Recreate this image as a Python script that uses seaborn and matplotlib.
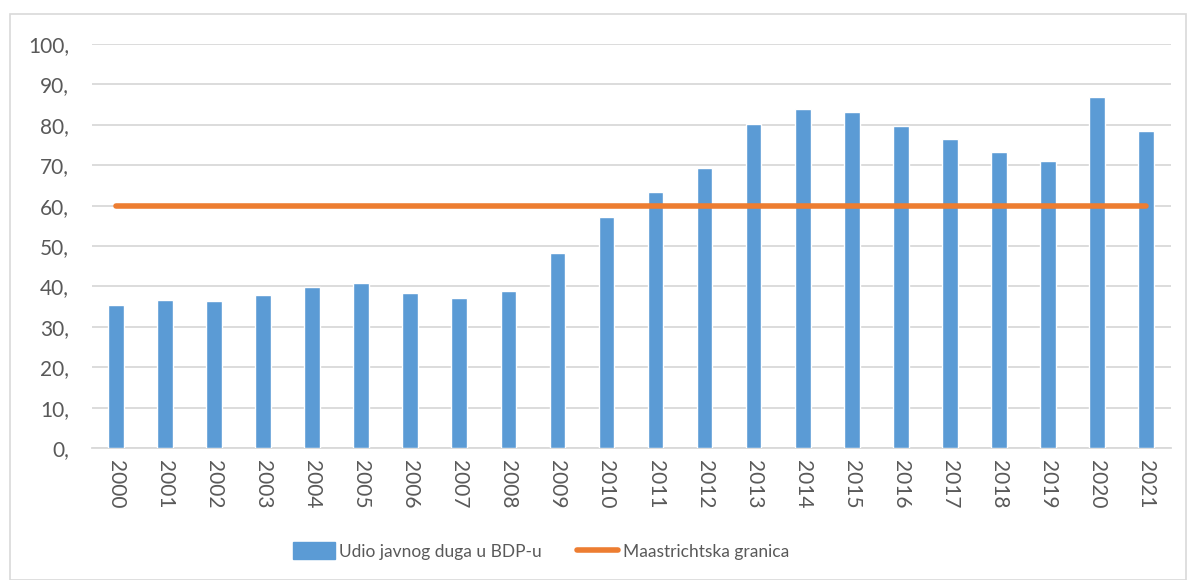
import numpy as np
import pandas as pd
import matplotlib
matplotlib.use("Agg")
import matplotlib.pyplot as plt
import matplotlib.patches as mpatches
from matplotlib.lines import Line2D
import seaborn as sns

years = [str(y) for y in range(2000, 2022)]
debt_ratio = [35.4, 36.6, 36.5, 37.8, 39.9, 40.8, 38.4, 37.2, 38.9, 48.2, 57.1,
              63.4, 69.2, 80.1, 83.8, 83.2, 79.7, 76.4, 73.3, 71.0, 87.0, 78.4]
maastricht = [60] * len(years)
yticks = [0, 10, 20, 30, 40, 50, 60, 70, 80, 90, 100]
series_names = ["Udio javnog duga u BDP-u", "Maastrichtska granica"]

BLUE = "#5B9BD5"
ORANGE = "#ED7D31"
GRID = "#D9D9D9"
TXT = "#595959"
FS = 15
LFS = 12.5

sns.set_theme(style="white")
plt.rcParams["font.family"] = ["Lato", "DejaVu Sans"]

fig = plt.figure(figsize=(11.87, 5.8), dpi=100)
ax = fig.add_axes([91.5 / 1187, 132 / 580, 1079 / 1187, 404 / 580])

df = pd.DataFrame({"year": years, "value": debt_ratio})
sns.barplot(data=df, x="year", y="value", color=BLUE, saturation=1,
            width=0.32, ax=ax, zorder=3)
ax.plot(np.arange(len(years)), maastricht, color=ORANGE, lw=4,
        solid_capstyle="round", zorder=4)

ax.set_ylim(0, 100)
ax.set_xlim(-0.5, len(years) - 0.5)
ax.set_yticks(yticks)
ax.set_yticklabels([f"{v}," for v in yticks])
ax.yaxis.grid(True, color=GRID, lw=1.3, zorder=0)
ax.set_axisbelow(True)
for s in ["left", "right", "top"]:
    ax.spines[s].set_visible(False)
ax.spines["bottom"].set_color(GRID)
ax.spines["bottom"].set_linewidth(1.3)
ax.tick_params(axis="y", length=0, pad=16, labelsize=FS, labelcolor=TXT)
ax.tick_params(axis="x", length=0, pad=9, labelsize=FS, labelcolor=TXT,
               labelrotation=270)
ax.set_xlabel("")
ax.set_ylabel("")

handles = [mpatches.Patch(color=BLUE), Line2D([0], [0], color=ORANGE, lw=4,
                                             solid_capstyle="round")]
fig.legend(handles, series_names, loc="center", bbox_to_anchor=(541 / 1187, 1 - 551 / 580),
           ncol=2, frameon=False, fontsize=LFS, labelcolor=TXT,
           handlelength=2.4, handleheight=1.1, columnspacing=2.0, handletextpad=0.25)

fig.patches.append(mpatches.Rectangle((10 / 1187, 0), 1 - 10 / 1187 - 0.001,
                                      1 - 14 / 580, transform=fig.transFigure,
                                      fill=False, edgecolor=GRID, lw=1.2))

fig.savefig("out.png", dpi=100, facecolor="white")
